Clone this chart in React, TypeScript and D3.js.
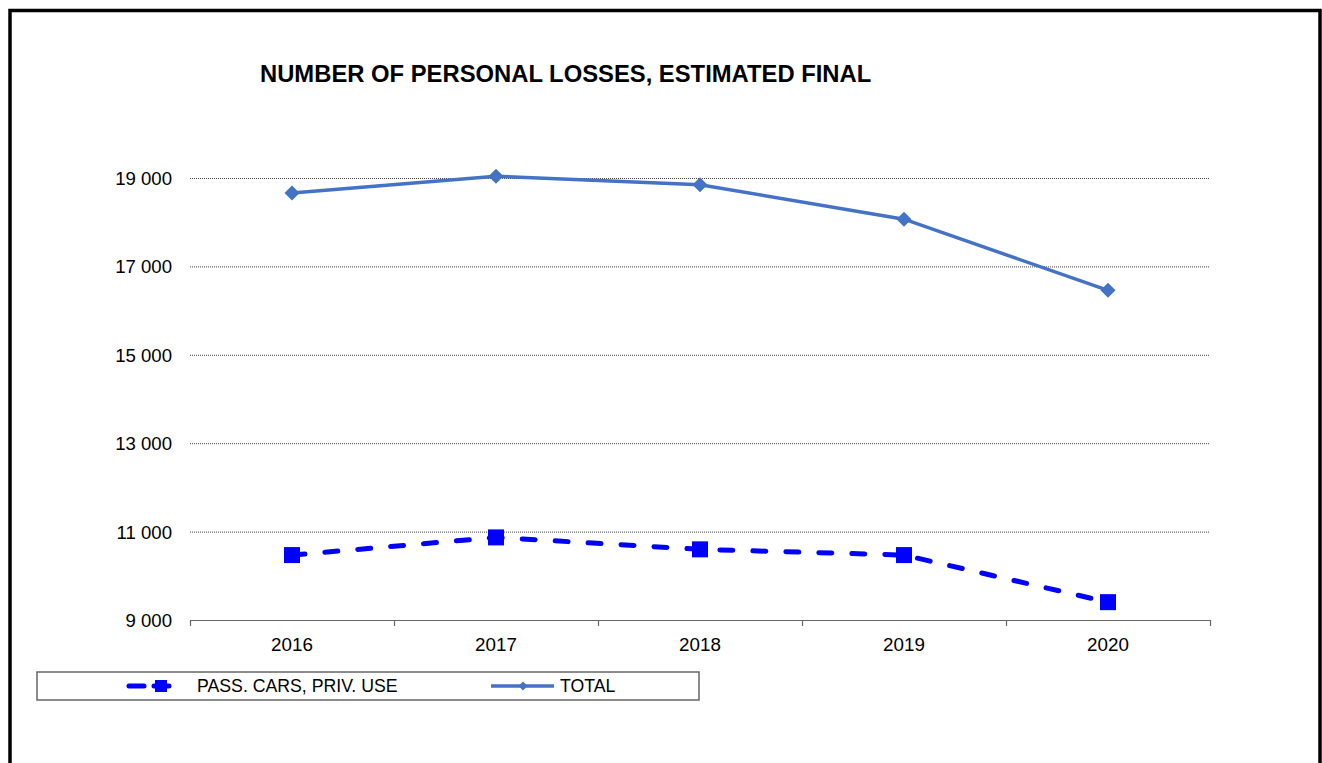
import React from "react";
import * as d3 from "d3";

const years = ["2016", "2017", "2018", "2019", "2020"];
const totalValues = [18670, 19050, 18860, 18080, 16470];
const passCarsValues = [10480, 10880, 10610, 10480, 9415];
const yTicks = [9000, 11000, 13000, 15000, 17000, 19000];
const seriesNames = ["PASS. CARS, PRIV. USE", "TOTAL"];
const title = "NUMBER OF PERSONAL LOSSES, ESTIMATED FINAL";

const FONT = "'Liberation Sans', Arial, sans-serif";

export default function App() {
  const W = 1322;
  const H = 763;
  const x = d3.scaleBand<string>().domain(years).range([190, 1210]).padding(0);
  const y = d3.scaleLinear().domain([9000, 19000]).range([620.5, 178.5]);
  const cx = (d: string) => (x(d) as number) + x.bandwidth() / 2;
  const fmt = (v: number) => d3.format(",")(v).replace(/,/g, " ");

  const line = d3
    .line<number>()
    .x((_, i) => cx(years[i]))
    .y((v) => y(v));

  const boundaries = years.map((d) => x(d) as number).concat([x.range()[1]]);
  const diamond = (s: number) => `M0,${-s} L${s},0 L0,${s} L${-s},0 Z`;

  return (
    <svg
      width={W}
      height={H}
      style={{ position: "absolute", left: 0, top: 0, background: "#fff" }}
    >
      <rect x={10} y={10.5} width={1310} height={800} fill="#fff" stroke="#000" strokeWidth={3.5} />
      <text x={260} y={82} fontFamily={FONT} fontWeight="bold" fontSize={23.8} fill="#000">
        {title}
      </text>

      {/* gridlines */}
      {yTicks.slice(1).map((t) => (
        <line
          key={t}
          x1={190}
          x2={1210}
          y1={y(t)}
          y2={y(t)}
          stroke="#444"
          strokeWidth={1}
          strokeDasharray="1 1"
        />
      ))}
      {/* y labels */}
      {yTicks.map((t) => (
        <text
          key={t}
          x={172}
          y={y(t)}
          dy="0.35em"
          textAnchor="end"
          fontFamily={FONT}
          fontSize={18.6}
          fill="#000"
        >
          {fmt(t)}
        </text>
      ))}
      {/* x axis */}
      <line x1={190} x2={1210} y1={620.5} y2={620.5} stroke="#666" strokeWidth={1.2} />
      {boundaries.map((b, i) => (
        <line key={i} x1={b + 0.5} x2={b + 0.5} y1={620} y2={626} stroke="#666" strokeWidth={1.2} />
      ))}
      {years.map((d) => (
        <text key={d} x={cx(d)} y={650.5} textAnchor="middle" fontFamily={FONT} fontSize={18.8} fill="#000">
          {d}
        </text>
      ))}

      {/* TOTAL line */}
      <path d={line(totalValues) || ""} fill="none" stroke="#4472C4" strokeWidth={3.5} />
      {totalValues.map((v, i) => (
        <path key={i} d={diamond(7.5)} transform={`translate(${cx(years[i])},${y(v)})`} fill="#4472C4" />
      ))}

      {/* PASS CARS line */}
      <path
        d={line(passCarsValues) || ""}
        fill="none"
        stroke="#0000FF"
        strokeWidth={5}
        strokeDasharray="13 20"
        strokeLinecap="round"
      />
      {passCarsValues.map((v, i) => (
        <rect key={i} x={cx(years[i]) - 8} y={y(v) - 8} width={16} height={16} fill="#0000FF" />
      ))}

      {/* legend */}
      <rect x={37} y={672} width={662} height={28} fill="#fff" stroke="#666" strokeWidth={1.5} />
      <line x1={129} x2={178} y1={686} y2={686} stroke="#0000FF" strokeWidth={5} strokeDasharray="15 10" strokeLinecap="round" />
      <rect x={155} y={680} width={12} height={12} fill="#0000FF" />
      <text x={197} y={692} fontFamily={FONT} fontSize={17.7} fill="#000">
        {seriesNames[0]}
      </text>
      <line x1={491} x2={554} y1={686} y2={686} stroke="#4472C4" strokeWidth={3.5} />
      <path d={diamond(4.5)} transform="translate(523,686)" fill="#4472C4" />
      <text x={560} y={692} fontFamily={FONT} fontSize={17.7} fill="#000">
        {seriesNames[1]}
      </text>
    </svg>
  );
}
